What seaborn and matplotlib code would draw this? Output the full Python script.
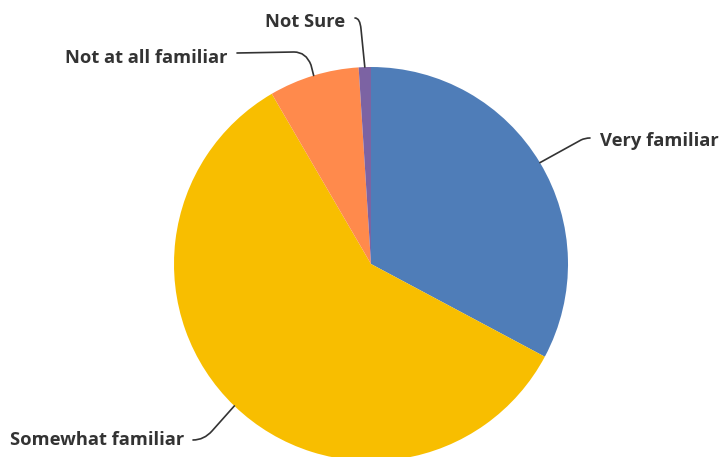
import numpy as np
import matplotlib
matplotlib.use("Agg")
import matplotlib.pyplot as plt
from matplotlib.path import Path
from matplotlib.patches import PathPatch
import seaborn as sns

# Survey answers: how familiar respondents are (percent of responses)
categories = ["Very familiar", "Somewhat familiar", "Not at all familiar", "Not Sure"]
shares = [32.8, 58.8, 7.4, 1.0]
colors = ["#4F7DB8", "#F8BE00", "#FF8A4C", "#7C63A3"]

W, H = 721, 457
sns.set_theme(style="white")
plt.rcParams["font.family"] = ["Open Sans", "DejaVu Sans"]

fig = plt.figure(figsize=(W / 100, H / 100), dpi=100)
ax = fig.add_axes([0, 0, 1, 1])

cx, cy, R = 371, H - 264, 197
wedges, _ = ax.pie(shares, colors=colors, startangle=90, counterclock=False,
                   center=(cx, cy), radius=R, frame=False,
                   wedgeprops=dict(linewidth=0, antialiased=True))
ax.set_xlim(0, W)
ax.set_ylim(0, H)
ax.set_aspect("equal")
ax.axis("off")

# label placement in pixels from the top-left corner: text anchor (baseline),
# leader line elbow, bend control, bend end, and the end next to the text
layout = {
    "Very familiar":       dict(xy=(600, 146), elbow=(581, 140), ctrl=(585, 138),
                                bend=(590, 138), end=(590, 138)),
    "Somewhat familiar":   dict(xy=(10, 445),  elbow=(212, 431), ctrl=(204, 440),
                                bend=(193, 440), end=(193, 440)),
    "Not at all familiar": dict(xy=(65, 63),   elbow=(311, 65),  ctrl=(306, 52),
                                bend=(294, 52),  end=(237, 53)),
    "Not Sure":            dict(xy=(265, 27),  elbow=(361, 29),  ctrl=(360, 18),
                                bend=(355, 18),  end=(355, 18)),
}


def px(p):
    return (p[0], H - p[1])


ink = "#333333"
for w, name in zip(wedges, categories):
    mid = np.deg2rad((w.theta1 + w.theta2) / 2)
    anchor = (cx + R * np.cos(mid), cy + R * np.sin(mid))
    spec = layout[name]
    verts = [anchor, px(spec["elbow"]), px(spec["ctrl"]), px(spec["bend"]), px(spec["end"])]
    codes = [Path.MOVETO, Path.LINETO, Path.CURVE3, Path.CURVE3, Path.LINETO]
    ax.add_patch(PathPatch(Path(verts, codes), fill=False, edgecolor=ink,
                           linewidth=1.2, capstyle="round", joinstyle="round"))
    tx, ty = px(spec["xy"])
    ax.text(tx, ty, name, ha="left", va="baseline", fontsize=13.2,
            fontweight="bold", color=ink)

fig.savefig("out.png", dpi=100)
